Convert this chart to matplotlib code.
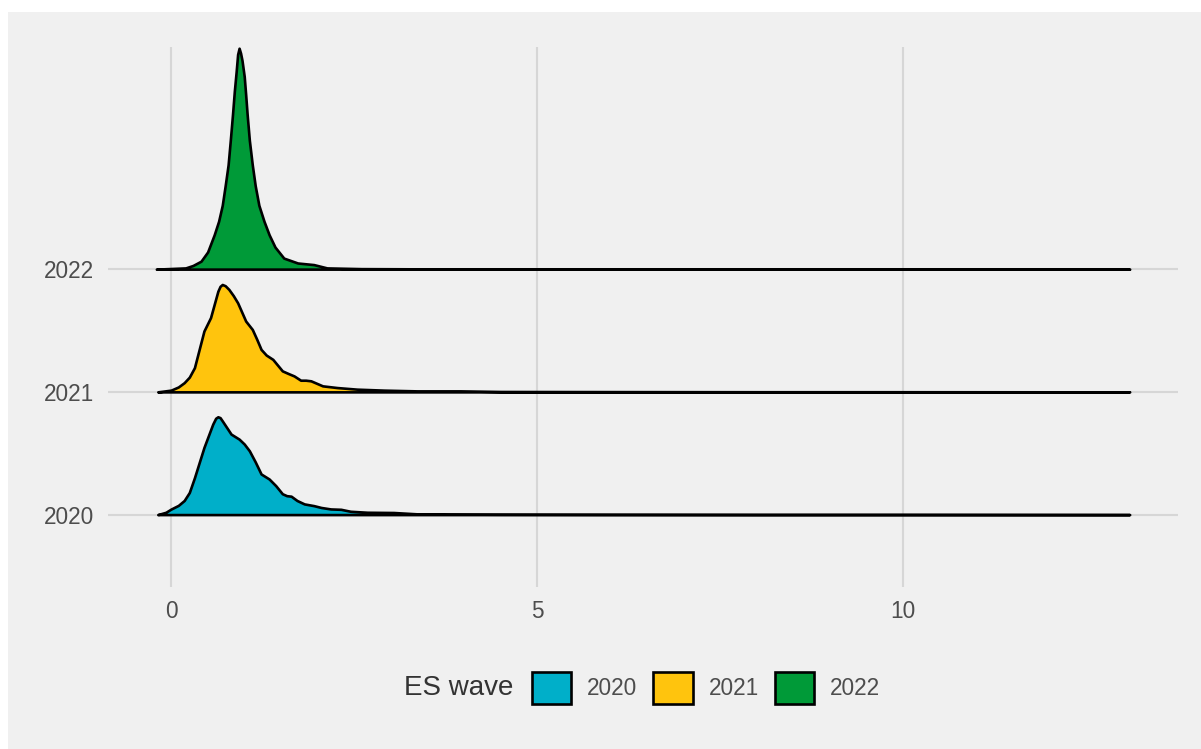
import numpy as np
import matplotlib
matplotlib.use('Agg')
import matplotlib.pyplot as plt
from matplotlib.patches import Rectangle, Patch

plt.rcParams['font.family'] = ['Liberation Sans', 'DejaVu Sans']

# --- data (x value, ridge height in row units) ---
years = ['2020', '2021', '2022']
colors = ['#00AFC9', '#FFC40D', '#009A38']

x_2020 = [-0.18, -0.07, 0.00, 0.10, 0.18, 0.25, 0.32, 0.45, 0.57, 0.61, 0.64, 0.67, 0.70,
          0.76, 0.82, 0.93, 1.00, 1.07, 1.15, 1.23, 1.34, 1.43, 1.52, 1.58, 1.64, 1.72,
          1.82, 1.95, 2.05, 2.18, 2.32, 2.45, 2.68, 3.04, 3.36, 3.81, 4.50, 6.00, 8.00,
          10.00, 13.09]
h_2020 = [0.0, 0.019, 0.045, 0.075, 0.115, 0.18, 0.30, 0.547, 0.737, 0.785, 0.797, 0.79, 0.764,
          0.71, 0.656, 0.615, 0.575, 0.52, 0.43, 0.331, 0.29, 0.236, 0.17, 0.154, 0.15, 0.115,
          0.087, 0.073, 0.058, 0.046, 0.043, 0.027, 0.019, 0.017, 0.006, 0.004, 0.003, 0.002,
          0.001, 0.001, 0.0]

x_2021 = [-0.18, 0.00, 0.10, 0.18, 0.25, 0.32, 0.45, 0.54, 0.64, 0.67, 0.70, 0.74, 0.79,
          0.85, 0.91, 1.02, 1.11, 1.17, 1.23, 1.30, 1.39, 1.52, 1.60, 1.68, 1.77, 1.84,
          1.91, 2.07, 2.27, 2.54, 2.91, 3.36, 3.95, 4.50, 6.00, 8.00, 10.00, 13.09]
h_2021 = [0.0, 0.014, 0.04, 0.075, 0.12, 0.197, 0.496, 0.605, 0.82, 0.86, 0.875, 0.865, 0.835,
          0.785, 0.726, 0.577, 0.509, 0.43, 0.346, 0.30, 0.265, 0.171, 0.15, 0.13, 0.095, 0.095,
          0.09, 0.049, 0.035, 0.022, 0.014, 0.008, 0.008, 0.003, 0.002, 0.001, 0.001, 0.0]

x_2022 = [-0.20, 0.20, 0.30, 0.41, 0.50, 0.59, 0.65, 0.70, 0.74, 0.78, 0.81, 0.84, 0.865,
          0.89, 0.91, 0.93, 0.95, 0.97, 1.00, 1.02, 1.04, 1.07, 1.11, 1.15, 1.20, 1.27,
          1.34, 1.42, 1.54, 1.73, 1.95, 2.13, 2.60, 3.50, 6.00, 10.00, 13.09]
h_2022 = [0.0, 0.01, 0.03, 0.065, 0.14, 0.28, 0.39, 0.52, 0.68, 0.85, 1.05, 1.26, 1.45,
          1.61, 1.75, 1.80, 1.76, 1.70, 1.57, 1.42, 1.26, 1.05, 0.85, 0.68, 0.52, 0.39,
          0.28, 0.18, 0.09, 0.05, 0.037, 0.01, 0.004, 0.002, 0.001, 0.001, 0.0]

ridges = [(x_2020, h_2020), (x_2021, h_2021), (x_2022, h_2022)]

x_ticks = [0, 5, 10]

# --- figure ---
fig = plt.figure(figsize=(12.01, 7.49), dpi=100)
fig.patch.set_facecolor('white')
fig.patches.append(Rectangle((8 / 1201, 0), 1, 1 - 12 / 749, transform=fig.transFigure,
                             facecolor='#f0f0f0', edgecolor='none', zorder=-10))

ax = fig.add_axes([108 / 1201, 1 - 587 / 749, (1178 - 108) / 1201, 540 / 749])
ax.set_facecolor('none')

# top row first so lower ridges sit on top of it
for i in [2, 1, 0]:
    xs, hs = ridges[i]
    xs = np.array(xs)
    hs = np.array(hs)
    poly = ax.fill_between(xs, i, i + hs, facecolor=colors[i], edgecolor='black',
                           linewidth=1.9, zorder=3)
    poly.set_joinstyle('round')

ax.set_xlim(-0.86, 13.75)
ax.set_ylim(-0.59, 3.81)

ax.set_xticks(x_ticks)
ax.set_xticklabels([str(t) for t in x_ticks])
ax.set_yticks(range(len(years)))
ax.set_yticklabels(years)
ax.tick_params(length=0, labelsize=16.3, labelcolor='#4d4d4d')
ax.tick_params(axis='x', pad=9)
ax.tick_params(axis='y', pad=10)
ax.grid(True, color='#d6d6d6', linewidth=1.5, zorder=0)
ax.set_axisbelow(True)
for s in ax.spines.values():
    s.set_visible(False)

# legend
handles = [Patch(facecolor=c, edgecolor='black', linewidth=1.9) for c in colors]
leg = fig.legend(handles, years, loc='center', bbox_to_anchor=(706 / 1201, 1 - 688 / 749),
                 ncol=3, frameon=False, fontsize=16.3, handlelength=1.75, handleheight=1.75,
                 handletextpad=0.7, columnspacing=0.7, borderpad=0, borderaxespad=0)
for t in leg.get_texts():
    t.set_color('#4d4d4d')
fig.text(513 / 1201, 1 - 688 / 749, 'ES wave', ha='right', va='center',
         fontsize=20, color='#333333')

fig.savefig('out.png', dpi=100)
